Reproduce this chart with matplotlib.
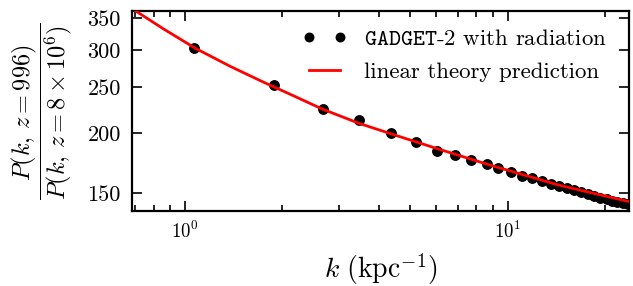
import matplotlib
matplotlib.use("Agg")
import matplotlib.pyplot as plt
from matplotlib.lines import Line2D
from matplotlib.legend_handler import HandlerLine2D
from matplotlib.ticker import FixedLocator, NullLocator, LogLocator, NullFormatter, FixedFormatter

# Simulation measurements (GADGET-2 with radiation)
k_sim = [1.07, 1.89, 2.67, 3.47, 4.35, 5.22, 6.03, 6.86, 7.68, 8.61, 9.35,
         10.24, 11.1, 11.95, 12.8, 13.6, 14.4, 15.3, 16.1, 16.9, 17.8, 18.6,
         19.4, 20.3, 21.1, 21.9, 22.8, 23.6]
ratio_sim = [302, 253, 225, 213, 200, 192, 184, 180, 175.5, 172.5, 169,
             166, 163, 161, 159, 156.7, 155, 153.5, 152, 150.5, 149, 147.5,
             146.5, 145.5, 144.5, 143.8, 143, 142.3]

# Linear theory prediction
k_lin = [0.685, 0.708, 0.857, 1.074, 1.379, 1.748, 2.115, 2.67, 3.47, 4.35,
         6.03, 8.8, 14.5, 23.8]
ratio_lin = [366.5, 361, 332, 302.5, 277, 256.6, 242, 225, 210, 199.7,
             186, 171.7, 155.6, 143.8]

ytick_vals = [150, 200, 250, 300, 350]
ytick_labels = ["150", "200", "250", "300", "350"]

plt.rcParams["font.family"] = "serif"
plt.rcParams["font.serif"] = ["cmr10", "DejaVu Serif"]
plt.rcParams["mathtext.fontset"] = "cm"
plt.rcParams["axes.formatter.use_mathtext"] = True

fig = plt.figure(figsize=(6.33, 2.86), dpi=100)
ax = fig.add_axes([132/633, 1-211/286, (629-132)/633, (211-11)/286])

ax.plot(k_sim, ratio_sim, "o", color="black", markersize=6.8, zorder=3,
        label=r"$\mathtt{GADGET}$-$\mathtt{2}$ with radiation")
ax.plot(k_lin, ratio_lin, "-", color="red", linewidth=2, zorder=4,
        label="linear theory prediction")

ax.set_xscale("log")
ax.set_yscale("log")
ax.set_xlim(0.685, 23.8)
ax.set_ylim(137.4, 362)

ax.yaxis.set_major_locator(FixedLocator(ytick_vals))
ax.yaxis.set_major_formatter(FixedFormatter(ytick_labels))
ax.yaxis.set_minor_locator(NullLocator())
ax.xaxis.set_major_locator(LogLocator(base=10))
ax.xaxis.set_minor_locator(LogLocator(base=10, subs=range(2, 10)))
ax.xaxis.set_minor_formatter(NullFormatter())

for s in ax.spines.values():
    s.set_linewidth(1.6)
ax.tick_params(which="both", direction="in", top=True, right=True, width=1.2)
ax.tick_params(which="major", length=7)
ax.tick_params(which="minor", length=4)
ax.tick_params(axis="y", labelsize=16, pad=8)
ax.tick_params(axis="x", labelsize=13.5, pad=7)

ax.set_xlabel(r"$k\ (\mathrm{kpc}^{-1})$", fontsize=20, labelpad=7)
ax.set_ylabel(r"$\dfrac{P(k,\,z=996)}{P(k,\,z=8\times10^6)}$", fontsize=17.5,
              labelpad=10)

leg = ax.legend(loc="upper right", bbox_to_anchor=(0.988, 0.99),
                frameon=False, numpoints=2, fontsize=16.5,
                handlelength=1.45, handletextpad=1.0, labelspacing=0.55,
                borderaxespad=0.3, borderpad=0.4, markerscale=0.9,
                handler_map={Line2D: HandlerLine2D(marker_pad=0.05, numpoints=2)})

fig.savefig("out.png", dpi=100)
